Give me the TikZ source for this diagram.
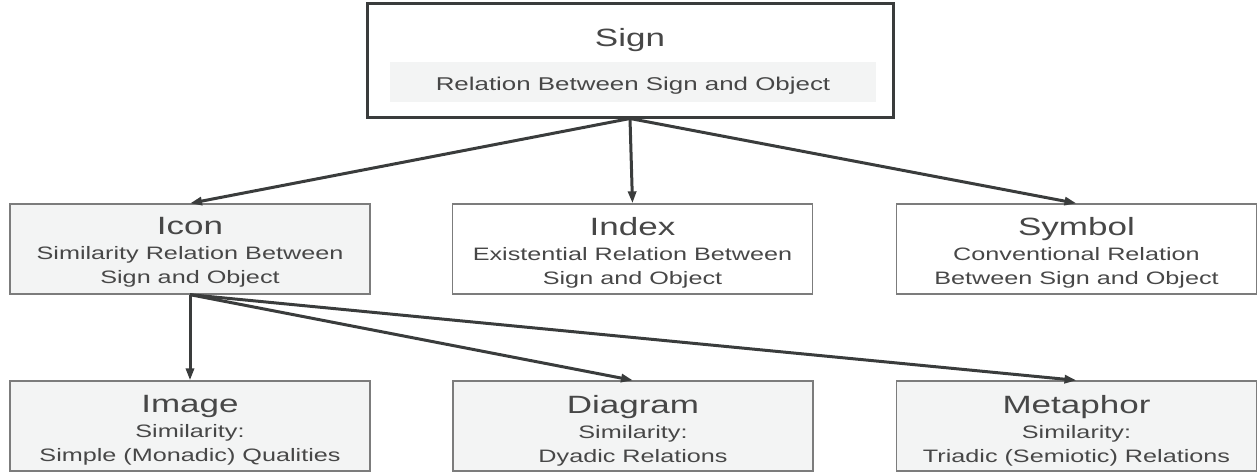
\documentclass[tikz,border=0pt]{standalone}
\usepackage{fontspec}
\setmainfont{Liberation Sans}[FakeStretch=1.4]
\usetikzlibrary{arrows.meta}
\definecolor{txtgray}{HTML}{474747}
\definecolor{boxgray}{HTML}{7C7C7C}
\definecolor{darkline}{HTML}{3A3C3C}
\definecolor{fillgray}{HTML}{F3F4F4}
\newcommand{\ttlfont}{\fontsize{25}{25}\selectfont}
\tikzset{
  signbox/.style={draw=darkline, line width=3pt, minimum width=526pt, minimum height=114pt, inner sep=0pt},
  band/.style={fill=fillgray, minimum width=486pt, minimum height=40pt, inner sep=0pt, text=txtgray,
    font=\fontsize{18.5}{22}\selectfont, text height=17.4pt, text depth=0pt},
  box/.style={draw=boxgray, line width=1.3pt, minimum width=360pt, minimum height=90pt, inner sep=0pt},
  filled/.style={fill=fillgray},
  ttl/.style={text=txtgray, inner sep=0pt, font=\ttlfont},
  txt/.style={align=center, text=txtgray, inner sep=0pt, anchor=north, font=\fontsize{18}{24.5}\selectfont},
  conn/.style={draw=darkline, line width=3pt, -{Triangle[length=12pt, width=8pt]}}
}
\begin{document}
\begin{tikzpicture}[x=1pt,y=-1pt]
\useasboundingbox (0,0) rectangle (1259,475);
% top
\node[signbox] (sign) at (630,60) {};
\node[ttl, anchor=base] (signT) at (630,46) {Sign};
\node[band] (band) at (633,82) {Relation Between Sign and Object};
% middle row
\node[box, filled] (icon) at (190,249) {};
\node[box] (index) at (632.5,249) {};
\node[box] (symbol) at (1076.5,249) {};
\node[txt] (iconT) at ([yshift=-13.5pt]icon.north) {{\ttlfont Icon}\\[0.5pt]Similarity Relation Between\\Sign and Object};
\node[txt] (indexT) at ([yshift=-13.5pt]index.north) {{\ttlfont Index}\\[0.5pt]Existential Relation Between\\Sign and Object};
\node[txt] (symbolT) at ([yshift=-13.5pt]symbol.north) {{\ttlfont Symbol}\\[0.5pt]Conventional Relation\\Between Sign and Object};
% bottom row
\node[box, filled] (image) at (190,426) {};
\node[box, filled] (diagram) at (633,426) {};
\node[box, filled] (metaphor) at (1076.5,426) {};
\node[txt] (imageT) at ([yshift=-14.5pt]image.north) {{\ttlfont Image}\\[0.5pt]Similarity:\\Simple (Monadic) Qualities};
\node[txt] (diagramT) at ([yshift=-14.5pt]diagram.north) {{\ttlfont Diagram}\\[0.5pt]Similarity:\\Dyadic Relations};
\node[txt] (metaphorT) at ([yshift=-14.5pt]metaphor.north) {{\ttlfont Metaphor}\\[0.5pt]Similarity:\\Triadic (Semiotic) Relations};
% connectors
\draw[conn] (sign.south) -- (icon.north);
\draw[conn] (sign.south) -- (index.north);
\draw[conn] (sign.south) -- (symbol.north);
\draw[conn] (icon.south) -- (image.north);
\draw[conn] (icon.south) -- (diagram.north);
\draw[conn] (icon.south) -- (metaphor.north);
\end{tikzpicture}
\end{document}
